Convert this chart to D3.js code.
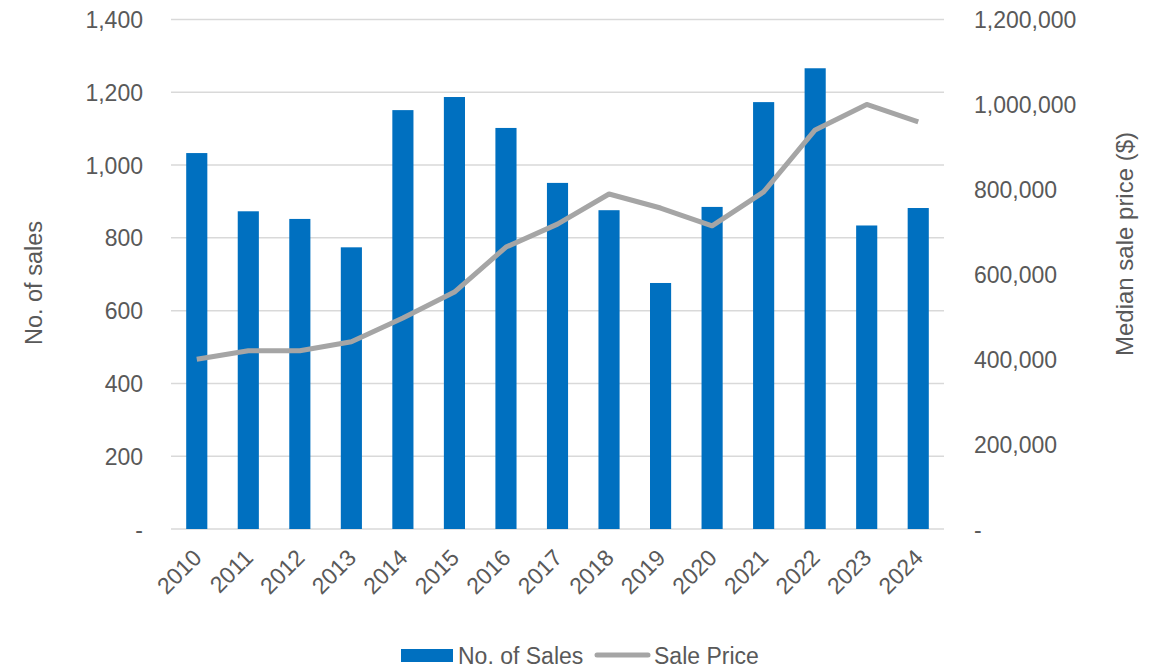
<!DOCTYPE html>
<html>
<head>
<meta charset="utf-8">
<script src="https://cdn.jsdelivr.net/npm/d3@7"></script>
<style>
  body { margin: 0; background: #fff; }
  text { font-family: "Liberation Sans", Arial, sans-serif; fill: #595959; }
</style>
</head>
<body>
<svg width="1160" height="668"></svg>
<script>
// данные
const years = ["2010","2011","2012","2013","2014","2015","2016","2017","2018","2019","2020","2021","2022","2023","2024"];
const sales = [1033, 873, 852, 774, 1151, 1187, 1102, 951, 876, 676, 885, 1173, 1266, 834, 882];
const prices = [400000, 420000, 420000, 441000, 497000, 558000, 664000, 718000, 789000, 756000, 714000, 794000, 940000, 1000000, 959000];
const salesTicks = [0, 200, 400, 600, 800, 1000, 1200, 1400];
const priceTicks = [0, 200000, 400000, 600000, 800000, 1000000, 1200000];

const svg = d3.select("svg");
const plotLeft = 171, plotRight = 944, plotTop = 19.5, plotBottom = 529;

const x = d3.scaleBand().domain(years).range([plotLeft, plotRight]).paddingInner(0.59).paddingOuter(0.295);
const yL = d3.scaleLinear().domain([0, 1400]).range([plotBottom, plotTop]);
const yR = d3.scaleLinear().domain([0, 1200000]).range([plotBottom, plotTop]);

const fmt = d => d === 0 ? "-" : d3.format(",")(d);

// сетка
svg.append("g")
  .selectAll("line")
  .data(salesTicks)
  .join("line")
  .attr("x1", plotLeft).attr("x2", plotRight)
  .attr("y1", d => yL(d)).attr("y2", d => yL(d))
  .attr("stroke", "#d9d9d9").attr("stroke-width", 1.5);

// левая ось
const axL = svg.append("g")
  .attr("transform", `translate(${plotLeft - 28},0)`)
  .call(d3.axisLeft(yL).tickValues(salesTicks).tickFormat(fmt).tickSize(0).tickPadding(0));
axL.select(".domain").remove();
axL.selectAll("text").style("font-size", "23px").attr("fill", "#595959").attr("dy", "0.35em");

// правая ось
const axR = svg.append("g")
  .attr("transform", `translate(${plotRight + 30},0)`)
  .call(d3.axisRight(yR).tickValues(priceTicks).tickFormat(fmt).tickSize(0).tickPadding(0));
axR.select(".domain").remove();
axR.selectAll("text").style("font-size", "23px").attr("fill", "#595959").attr("dy", "0.35em");

// столбцы
svg.append("g")
  .selectAll("rect")
  .data(years)
  .join("rect")
  .attr("x", d => x(d))
  .attr("width", x.bandwidth())
  .attr("y", (d, i) => yL(sales[i]))
  .attr("height", (d, i) => plotBottom - yL(sales[i]))
  .attr("fill", "#0070c0");

// линия цены
const line = d3.line()
  .x((d, i) => x(years[i]) + x.bandwidth() / 2)
  .y(d => yR(d));
svg.append("path")
  .attr("d", line(prices))
  .attr("fill", "none")
  .attr("stroke", "#a5a5a5")
  .attr("stroke-width", 5)
  .attr("stroke-linejoin", "round");

// подписи годов
svg.append("g")
  .selectAll("text")
  .data(years)
  .join("text")
  .attr("transform", d => `translate(${x(d) + x.bandwidth() / 2 - 6},${plotBottom + 18}) rotate(-45)`)
  .attr("text-anchor", "end")
  .attr("dy", "0.75em")
  .style("font-size", "23px")
  .text(d => d);

// подписи осей
svg.append("text")
  .attr("transform", `translate(42,283) rotate(-90)`)
  .attr("text-anchor", "middle")
  .style("font-size", "23.5px")
  .text("No. of sales");
svg.append("text")
  .attr("transform", `translate(1133,244) rotate(-90)`)
  .attr("text-anchor", "middle")
  .style("font-size", "24px")
  .text("Median sale price ($)");

// легенда
const lg = svg.append("g");
lg.append("rect").attr("x", 401).attr("y", 649).attr("width", 52).attr("height", 13).attr("fill", "#0070c0");
lg.append("text").attr("x", 458).attr("y", 664).style("font-size", "23px").text("No. of Sales");
lg.append("line").attr("x1", 597).attr("x2", 648).attr("y1", 655).attr("y2", 655)
  .attr("stroke", "#a5a5a5").attr("stroke-width", 5).attr("stroke-linecap", "round");
lg.append("text").attr("x", 654).attr("y", 664).style("font-size", "23px").text("Sale Price");
</script>
</body>
</html>
